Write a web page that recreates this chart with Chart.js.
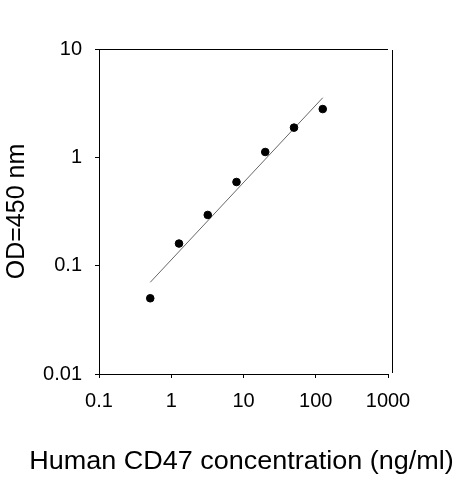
<!DOCTYPE html>
<html><head><meta charset="utf-8">
<script src="https://cdn.jsdelivr.net/npm/chart.js@4/dist/chart.umd.min.js"></script>
<style>html,body{margin:0;padding:0;background:#fff}#wrap{width:463px;height:480px}</style>
</head><body><div id="wrap"><canvas id="c" width="463" height="480"></canvas></div>
<script>
const concentrations = [0.512, 1.28, 3.2, 8, 20, 50, 125];
const odValues = [0.05, 0.16, 0.294, 0.592, 1.12, 1.88, 2.79];
const fitX = [0.512, 125];
const fitY = [0.0702, 3.55];
const xTicks = [0.1, 1, 10, 100, 1000];
const yTicks = [0.01, 0.1, 1, 10];
const xTitle = 'Human CD47 concentration (ng/ml)';
const yTitle = 'OD=450 nm';

const FONT = "'Liberation Sans', Arial, sans-serif";

const boxPlugin = {
  id: 'box',
  afterDraw(chart) {
    const {ctx, chartArea: {left, right, top, bottom}} = chart;
    ctx.save();
    ctx.strokeStyle = '#000';
    ctx.lineWidth = 1;
    ctx.beginPath();
    ctx.moveTo(left, Math.round(top) + 0.5);
    ctx.lineTo(right, Math.round(top) + 0.5);
    ctx.moveTo(Math.round(right) + 4.5, top + 1);
    ctx.lineTo(Math.round(right) + 4.5, bottom - 1);
    ctx.stroke();
    // x-axis title (drawn here so it is not squeezed to the axis width)
    ctx.fillStyle = '#000';
    ctx.font = '25px ' + FONT;
    ctx.textAlign = 'center';
    ctx.textBaseline = 'middle';
    ctx.translate((left + right) / 2 - 2, 462);
    ctx.scale(1.08, 1);
    ctx.fillText(xTitle, 0, 0);
    ctx.restore();
  }
};

new Chart(document.getElementById('c'), {
  type: 'scatter',
  data: {
    datasets: [
      {
        data: concentrations.map((x, i) => ({x, y: odValues[i]})),
        backgroundColor: '#000',
        borderColor: '#000',
        pointRadius: 3.8,
        pointHoverRadius: 3.8,
        showLine: false
      },
      {
        type: 'line',
        data: fitX.map((x, i) => ({x, y: fitY[i]})),
        borderColor: '#666',
        borderWidth: 1,
        pointRadius: 0,
        fill: false,
        tension: 0
      }
    ]
  },
  options: {
    responsive: false,
    animation: false,
    events: [],
    layout: {padding: {top: 49, right: 75, left: 0, bottom: 0}},
    plugins: {legend: {display: false}, tooltip: {enabled: false}},
    scales: {
      x: {
        type: 'logarithmic',
        min: 0.1, max: 1000,
        afterBuildTicks: s => { s.ticks = xTicks.map(v => ({value: v})); },
        afterFit: s => { s.height = 106; },
        grid: {display: true, drawOnChartArea: false, drawTicks: true, tickLength: 4, color: '#000', lineWidth: 1},
        border: {display: true, color: '#000', width: 1},
        ticks: {
          autoSkip: false, maxRotation: 0, padding: 11, color: '#000',
          font: {family: FONT, size: 20},
          callback: v => String(v)
        },
        title: {display: false}
      },
      y: {
        type: 'logarithmic',
        min: 0.01, max: 10,
        afterBuildTicks: s => { s.ticks = yTicks.map(v => ({value: v})); },
        afterFit: s => { s.width = 99; },
        grid: {display: true, drawOnChartArea: false, drawTicks: true, tickLength: 4, color: '#000', lineWidth: 1},
        border: {display: true, color: '#000', width: 1},
        ticks: {
          autoSkip: false, padding: 13, color: '#000',
          font: {family: FONT, size: 20},
          callback: v => String(v)
        },
        title: {display: true, text: yTitle, color: '#000', font: {family: FONT, size: 25}, padding: {top: 2, bottom: 0}}
      }
    }
  },
  plugins: [boxPlugin]
});
</script>
</body></html>
